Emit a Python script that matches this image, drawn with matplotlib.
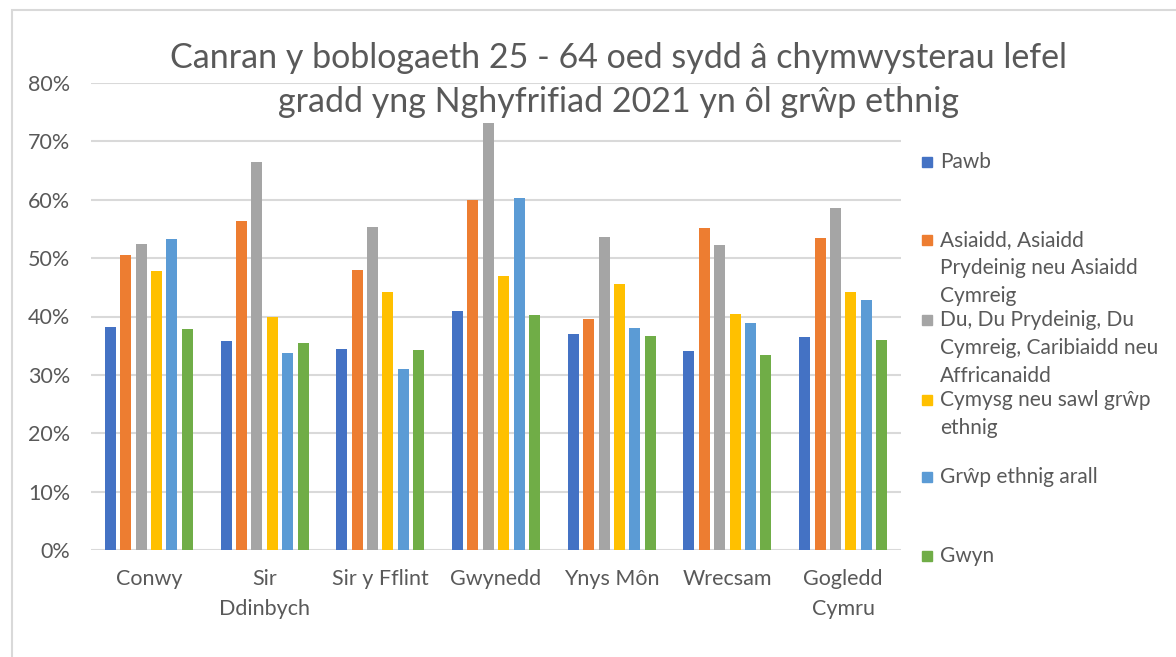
import numpy as np
import matplotlib
matplotlib.use("Agg")
import matplotlib.pyplot as plt
from matplotlib.patches import Rectangle
from matplotlib.ticker import PercentFormatter

plt.rcParams['font.family'] = ['Lato', 'DejaVu Sans']

title = "Canran y boblogaeth 25 - 64 oed sydd â chymwysterau lefel\ngradd yng Nghyfrifiad 2021 yn ôl grŵp ethnig"

categories = ["Conwy", "Sir\nDdinbych", "Sir y Fflint", "Gwynedd", "Ynys Môn", "Wrecsam", "Gogledd\nCymru"]

series_names = [
    "Pawb",
    "Asiaidd, Asiaidd\nPrydeinig neu Asiaidd\nCymreig",
    "Du, Du Prydeinig, Du\nCymreig, Caribiaidd neu\nAffricanaidd",
    "Cymysg neu sawl grŵp\nethnig",
    "Grŵp ethnig arall",
    "Gwyn",
]

pawb    = [38.2, 35.8, 34.5, 40.9, 37.0, 34.1, 36.5]
asiaidd = [50.5, 56.4, 48.0, 59.9, 39.6, 55.1, 53.4]
du      = [52.4, 66.5, 55.3, 73.2, 53.6, 52.2, 58.6]
cymysg  = [47.8, 40.0, 44.2, 47.0, 45.5, 40.4, 44.2]
arall   = [53.3, 33.8, 31.0, 60.3, 38.0, 38.9, 42.8]
gwyn    = [37.8, 35.4, 34.3, 40.2, 36.7, 33.4, 36.0]

colors = ["#4472C4", "#ED7D31", "#A5A5A5", "#FFC000", "#5B9BD5", "#70AD47"]

values = [pawb, asiaidd, du, cymysg, arall, gwyn]

W, H = 1176, 657
fig = plt.figure(figsize=(W / 100, H / 100), dpi=100)
ax = fig.add_axes([91 / W, 1 - 550 / H, 810 / W, 467 / H])

# chart frame (Excel style light border)
fig.patches.append(Rectangle((12 / W, -0.1), 1.2, 1.1 - 10 / H, transform=fig.transFigure,
                             fill=False, edgecolor="#D9D9D9", linewidth=1.5))

x = np.arange(len(categories))
step = 0.133
bw = 0.095
for i, (vals, c) in enumerate(zip(values, colors)):
    ax.bar(x + (i - 2.5) * step, np.array(vals) / 100, width=bw, color=c, zorder=3)

ax.set_xlim(-0.5, len(categories) - 0.5)
ax.set_ylim(0, 0.8)
ax.set_yticks(np.arange(0, 0.81, 0.1))
ax.yaxis.set_major_formatter(PercentFormatter(1.0, decimals=0))
ax.grid(axis="y", color="#D9D9D9", linewidth=1.5, zorder=0)
ax.set_axisbelow(True)
for s in ax.spines.values():
    s.set_visible(False)
ax.set_xticks(x)
ax.set_xticklabels(categories, linespacing=1.6)
ax.tick_params(axis="both", length=0, labelsize=15.5, labelcolor="#595959")
ax.tick_params(axis="x", pad=14)
ax.tick_params(axis="y", pad=15)

fig.text(618 / W, 1 - 80 / H, title, ha="center", va="center", fontsize=24.5,
         color="#595959", linespacing=1.45)

# legend, drawn by hand so the square sits on the first line of each label
ys = [162, 240, 320, 400, 477, 556]
for name, c, y in zip(series_names, colors, ys):
    fig.patches.append(Rectangle((922 / W, 1 - (y + 5) / H), 10 / W, 10 / H,
                                 transform=fig.transFigure, color=c))
    fig.text(940 / W, 1 - (y - 10) / H, name, ha="left", va="top", fontsize=15,
             color="#595959", linespacing=1.5)

fig.savefig("out.png", dpi=100)
